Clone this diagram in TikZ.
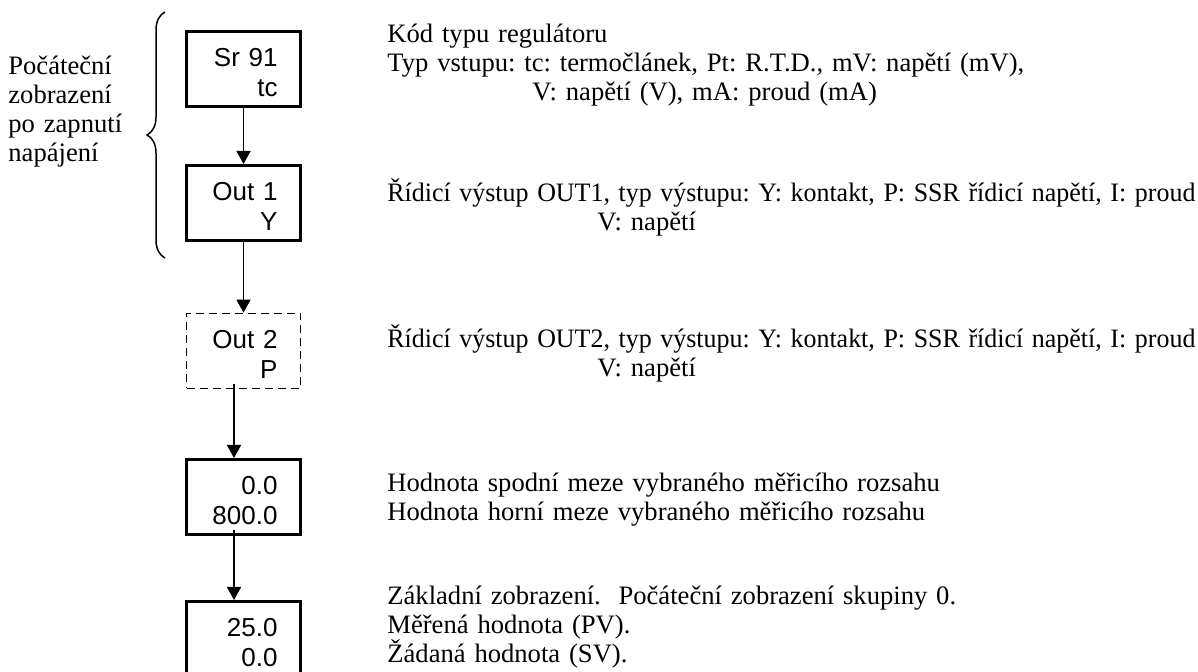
\documentclass[tikz,border=0pt]{standalone}
\usepackage{graphicx}
\usepackage{fontspec}
\setmainfont{Liberation Serif}
\newfontfamily\boxfont{Liberation Sans}
\usepackage{tikz}
\usetikzlibrary{arrows.meta, decorations.pathreplacing}
\frenchspacing
\newcommand{\fitline}[1]{\resizebox{404pt}{\height}{#1}}
\tikzstyle{dispbox} = [rectangle, minimum width=57pt, minimum height=37.5pt, text width=34pt, text height=13pt, inner xsep=11.5pt, inner ysep=0pt, align=right, draw=black, line width=1.5pt, font=\boxfont\fontsize{13pt}{15pt}\selectfont]
\tikzstyle{optbox} = [dispbox, line width=0.9pt, dash pattern=on 4pt off 2.5pt]
\tikzstyle{note} = [anchor=base west, text width=420pt, align=left, inner sep=0pt, font=\frenchspacing\fontsize{13.3pt}{14.5pt}\selectfont]
\tikzstyle{arrow} = [line width=0.75pt, -{Triangle[length=6.5pt, width=7pt]}]
\tikzstyle{bracket} = [line width=0.75pt, decorate, decoration={brace, amplitude=9pt}]

\begin{document}
\begin{tikzpicture}[x=0.5pt, y=-0.5pt, node distance=67pt]
    \useasboundingbox (0,0) rectangle (1198,672);
    \clip (0,0) rectangle (1198,672);
    \node (sr) [dispbox] at (243.5,69) {Sr 91\\tc};
    \node (out1) [dispbox, below of=sr] {Out 1\\Y};
    \node (out2) [optbox, below of=out1, yshift=-7pt] {Out 2\\P};
    \node (range) [dispbox, below of=out2, yshift=-6pt] {0.0\\800.0};
    \node (pv) [dispbox, below of=range, yshift=-4pt] {25.0\\0.0};

    \node (powerup) [note, text width=100pt] at (8,75) {Počáteční\\zobrazení\\po zapnutí\\napájení};
    \node (srnote) [note] at (387,43) {Kód typu regulátoru\\Typ vstupu: tc: termočlánek, Pt: R.T.D., mV: napětí (mV),\\\hspace*{72.5pt}V: napětí (V), mA: proud (mA)};
    \node (out1note) [note] at (387,202) {\fitline{Řídicí výstup OUT1, typ výstupu: Y: kontakt, P: SSR řídicí napětí, I: proud}\\\hspace*{105pt}V: napětí};
    \node (out2note) [note] at (387,348) {\fitline{Řídicí výstup OUT2, typ výstupu: Y: kontakt, P: SSR řídicí napětí, I: proud}\\\hspace*{105pt}V: napětí};
    \node (rangenote) [note] at (387,492) {Hodnota spodní meze vybraného měřicího rozsahu\\Hodnota horní meze vybraného měřicího rozsahu};
    \node (pvnote) [note] at (387,604) {Základní zobrazení.~~Počáteční zobrazení skupiny 0.\\Měřená hodnota (PV).\\Žádaná hodnota (SV).};

    \coordinate (bracetop) at (165,12);
    \coordinate (bracebot) at (165,258);
    \draw [bracket] (bracebot) -- (bracetop);

    \draw [arrow] (sr) -- (out1);
    \draw [arrow] (out1) -- (out2);
    \draw [arrow] ([xshift=-4.75pt, yshift=2.5pt]out2.south) -- ([xshift=-4.75pt]range.north);
    \draw [arrow] ([xshift=-4.75pt, yshift=3pt]range.south) -- ([xshift=-4.75pt]pv.north);
\end{tikzpicture}
\end{document}
